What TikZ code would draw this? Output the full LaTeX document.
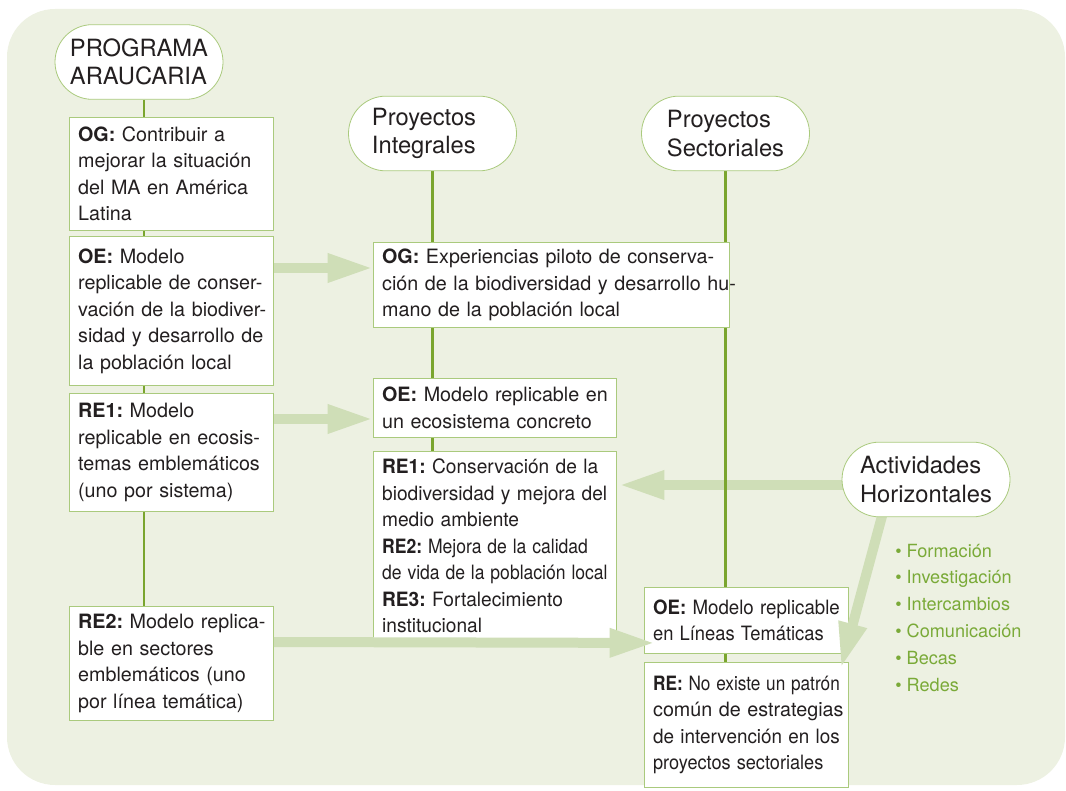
\documentclass[tikz,border=0pt]{standalone}
\usepackage{fontspec}
\setmainfont{TeX Gyre Heros}
\usepackage{graphicx}
\usetikzlibrary{arrows.meta,calc}
\definecolor{bgc}{RGB}{237,241,226}
\definecolor{bord}{RGB}{170,202,125}
\definecolor{vlc}{RGB}{122,165,46}
\definecolor{arrc}{RGB}{207,222,183}
\definecolor{bulc}{RGB}{122,170,56}
\definecolor{txt}{RGB}{35,31,32}
\newcommand{\bfont}{\fontsize{14.8}{19.9}\selectfont}
\newcommand{\sfontA}{\fontsize{17.8}{21.3}\selectfont}
\newcommand{\lfont}{\fontsize{13.6}{20.1}\selectfont}
\newcommand{\jl}[1]{\makebox[\linewidth][s]{#1}\\}
\newcommand{\rl}[1]{\resizebox{\linewidth}{\height}{#1}\\}
\newcommand{\sx}[2]{\scalebox{#1}[1]{#2}}
\frenchspacing
\pgfdeclarelayer{back}
\pgfdeclarelayer{mid}
\pgfdeclarelayer{lines}
\pgfsetlayers{back,mid,lines,main}
\begin{document}
\begin{tikzpicture}[x=0.75pt,y=-0.75pt,
  stad/.style={draw=bord, line width=0.6pt, fill=white, rounded corners=28pt,
    minimum height=56pt, minimum width=126pt, align=left, inner sep=0pt,
    font=\sfontA, text=txt},
  box/.style={draw=bord, line width=0.7pt, fill=white, anchor=north west,
    inner xsep=6.5pt, inner ysep=0pt, align=left, font=\bfont, text=txt},
  lbox/.style={box, text width=140pt, minimum width=153pt},
  nbox/.style={box, text width=169.25pt, minimum width=182.25pt},
  vline/.style={draw=vlc, line width=2.2pt},
  harrow/.style={draw=arrc, line width=7.5pt, -{Triangle[length=34pt,width=20pt]}}
]
\useasboundingbox (0,0) rectangle (1066,791);
\begin{pgfonlayer}{back}
\fill[bgc, rounded corners=36pt] (7,9) rectangle (1065,785);
\end{pgfonlayer}

% stadiums
\node[stad] (prog) at (139,62) {PROGRAMA\\ARAUCARIA};
\node[stad] (pint) at (432.5,133.5) {Proyectos\\Integrales\hspace*{13pt}};
\node[stad] (psec) at (725.5,133.5) {Proyectos\\Sectoriales};

% left column
\node[lbox, minimum height=84.75pt] (lOG) at (69,117)
 {\textbf{OG:} Contribuir a\\
  \jl{mejorar la situación}
  \jl{del MA en América}
  Latina};
\node[lbox, minimum height=111.75pt] (lOE) at (69,236)
 {\textbf{OE:} Modelo\\
  \jl{replicable de conser-}
  \jl{vación de la biodiver-}
  \jl{sidad y desarrollo de}
  la población local};
\node[lbox, minimum height=88.5pt] (lRE1) at (69,393)
 {\textbf{RE1:} Modelo\\
  \jl{replicable en ecosis-}
  \jl{temas emblemáticos}
  (uno por sistema)};
\node[lbox, minimum height=85.5pt] (lRE2) at (69,606)
 {\jl{\textbf{RE2:} Modelo replica-}
  ble en sectores\\
  emblemáticos (uno\\
  por línea temática)};

% middle column
\node[box, text width=254pt, minimum width=267pt, minimum height=63.75pt] (mOG) at (373,242)
 {\jl{\textbf{OG:} Experiencias piloto de conserva-}
  \jl{ción de la biodiversidad y desarrollo hu-}
  mano de la población local};
\node[nbox, minimum height=44.25pt] (mOE) at (373,378)
 {\rl{\textbf{OE:} Modelo replicable en}
  un ecosistema concreto};
\node[nbox, minimum height=141.75pt] (mRE) at (373,451)
 {\sx{0.97}{\textbf{RE1:} Conservación de la}\\
  \sx{0.97}{biodiversidad y mejora del}\\
  \sx{0.97}{medio ambiente}\\
  \sx{0.89}{\textbf{RE2:} Mejora de la calidad}\\
  \sx{0.89}{de vida de la población local}\\
  \sx{0.97}{\textbf{RE3:} Fortalecimiento}\\
  \sx{0.97}{institucional}};

% right column
\node[lbox, minimum height=49.5pt] (sOE) at (644,587)
 {\rl{\textbf{OE:} Modelo replicable}
  \sx{0.93}{en Líneas Temáticas}};
\node[lbox, minimum height=93.75pt] (sRE) at (644,662)
 {\rl{\textbf{RE:} No existe un patrón}
  \jl{común de estrategias}
  \rl{de intervención en los}
  \sx{0.92}{proyectos sectoriales}};

% vertical lines
\coordinate (lx) at (144,0);
\begin{pgfonlayer}{lines}
\draw[vline] (prog.south -| lx) -- (lRE2.north -| lx);
\draw[vline] (pint.south) -- (pint.south |- mRE.north);
\draw[vline] (psec.south) -- (psec.south |- sRE.north);
\end{pgfonlayer}

% arrows
\draw[harrow] ($(lOE.north east)+(0,32)$) -- ($(mOG.north west)+(0,26)$);
\draw[harrow] ($(lRE1.north east)+(0,26)$) -- ($(mOE.north west)+(0,41)$);
\draw[harrow] ($(lRE2.north east)+(0,36)$) -- ($(sOE.south west)+(11,-11)$);
\coordinate (actfoot) at (885,505);
\draw[harrow] (actfoot) -- ($(sRE.north east)+(-8,6)$);

\node[stad] (act) at (926,479.5) {Actividades\\Horizontales};
\begin{pgfonlayer}{mid}
\draw[harrow] ($(act.west)+(10,5.5)$) -- ($(mRE.north east)+(2,34)$);
\end{pgfonlayer}

\node[font=\lfont, text=bulc, align=left, anchor=base west, inner sep=0pt] (hlist) at (895,691)
 {\textbullet\ Formación\\
  \textbullet\ Investigación\\
  \textbullet\ Intercambios\\
  \textbullet\ Comunicación\\
  \textbullet\ Becas\\
  \textbullet\ Redes};
\end{tikzpicture}
\end{document}
